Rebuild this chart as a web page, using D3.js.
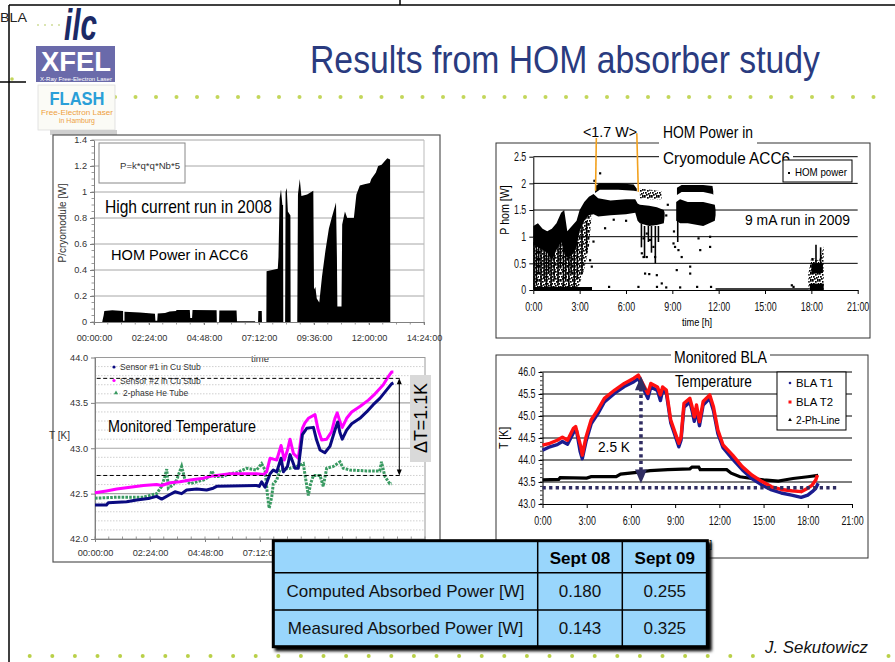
<!DOCTYPE html>
<html>
<head>
<meta charset="utf-8">
<script src="https://cdn.jsdelivr.net/npm/d3@7"></script>
<style>
body { margin: 0; background: #fff; }
svg { display: block; font-family: "Liberation Sans", Arial, sans-serif; }
</style>
</head>
<body>
<div id="chart"></div>
<script>
// ---------- data ----------
var slideTitle = "Results from HOM absorber study";

// top left: HOM power 2008, [hour, W]
var tlTicksY = [0, 0.2, 0.4, 0.6, 0.8, 1, 1.2, 1.4];
var tlTicksX = [0, 2.4, 4.8, 7.2, 9.6, 12, 14.4];
var homPower2008 = [[0.36,0],[0.38,0.02],[0.42,0.05],[0.45,0.085],[0.8,0.09],[1.27,0.085],[1.27,0.01],[1.33,0.01],[1.33,0.078],
  [2.0,0.073],[2.4,0.068],[2.66,0.063],[2.68,0.01],[2.76,0.01],[2.78,0.065],[3.1,0.07],[3.3,0.08],[3.58,0.085],[3.6,0.092],
  [4.18,0.092],[4.2,0.03],[4.28,0.03],[4.3,0.092],[5.35,0.09],[5.36,0],[5.46,0],[5.47,0.088],[6.22,0.088],[6.24,0.005],
  [7.02,0.005],[7.04,0],[7.16,0],[7.17,0.085],[7.32,0.085],[7.33,0],[7.52,0],[7.53,0.39],[8.02,0.41],[8.05,0.5],[8.1,0.95],
  [8.16,1.02],[8.22,0.9],[8.25,0.9],[8.26,0],[8.34,0],[8.36,1.0],[8.41,1.03],[8.46,0.85],[8.57,0.82],[8.58,0],[8.87,0],
  [8.9,0.98],[8.98,1.1],[9.05,0.97],[9.3,0.98],[9.57,1.01],[9.6,0.25],[9.66,0.27],[9.72,0.18],[9.83,0.15],[9.95,0.35],
  [10.1,0.55],[10.25,0.72],[10.37,0.8],[10.5,0.88],[10.56,0.92],[10.6,0.5],[10.62,0.12],[10.8,0.12],[10.83,0.75],[10.95,0.85],
  [11.05,0.8],[11.34,0.8],[11.45,0.98],[11.6,1.05],[11.8,1.06],[12.04,1.07],[12.1,1.1],[12.3,1.15],[12.4,1.2],[12.55,1.21],
  [12.7,1.24],[12.8,1.26],[12.92,1.25],[12.93,0]];

// bottom left: monitored temperature 2008, [hour, K]
var blTicksY = [42, 42.5, 43, 43.5, 44];
var sensor1 = [[0,42.375],[0.5,42.375],[0.58,42.40],[1.38,42.41],[1.82,42.43],[2.4,42.45],[2.69,42.47],[2.91,42.44],[3.27,42.49],
  [3.49,42.52],[3.78,42.50],[4.0,42.54],[4.44,42.55],[4.87,42.54],[5.16,42.56],[5.31,42.58],[5.89,42.585],[7.05,42.59],
  [7.17,42.58],[7.27,42.63],[7.42,42.57],[7.64,42.72],[7.78,42.76],[7.93,42.74],[8.12,42.89],[8.22,42.74],[8.4,42.80],
  [8.51,42.93],[8.73,42.78],[8.87,42.78],[9.05,43.15],[9.24,43.22],[9.53,43.23],[9.67,43.09],[9.82,42.98],[10.03,42.95],
  [10.25,43.02],[10.47,43.20],[10.59,43.29],[10.69,43.17],[10.79,43.10],[10.98,43.20],[11.2,43.27],[11.56,43.33],
  [11.85,43.40],[12.14,43.48],[12.43,43.55],[12.72,43.64],[12.94,43.71],[13.02,43.72]];
var sensor2 = [[0,42.51],[0.5,42.53],[0.95,42.55],[1.53,42.57],[2.11,42.59],[2.69,42.60],[2.91,42.59],[3.27,42.62],[3.71,42.63],
  [4.15,42.65],[4.73,42.67],[5.02,42.69],[5.31,42.70],[5.89,42.72],[6.47,42.72],[7.05,42.72],[7.35,42.71],[7.49,42.74],
  [7.64,42.89],[7.78,42.88],[7.93,42.87],[8.12,43.03],[8.26,42.87],[8.4,42.98],[8.51,43.10],[8.66,42.94],[8.87,42.89],
  [9.05,43.22],[9.16,43.28],[9.31,43.33],[9.6,43.37],[9.74,43.20],[9.89,43.09],[10.11,43.10],[10.32,43.18],[10.47,43.33],
  [10.57,43.39],[10.69,43.29],[10.79,43.23],[10.98,43.33],[11.2,43.40],[11.56,43.46],[11.93,43.53],[12.22,43.60],
  [12.58,43.70],[12.8,43.79],[12.94,43.84],[13.02,43.84]];
var heTube = [[0,42.45],[0.95,42.46],[2.11,42.46],[2.4,42.48],[2.69,42.50],[2.91,42.58],[3.05,42.69],[3.13,42.77],[3.2,42.56],
  [3.42,42.60],[3.56,42.65],[3.78,42.80],[3.93,42.65],[4.15,42.61],[4.44,42.63],[4.73,42.65],[5.02,42.69],[5.09,42.75],
  [5.24,42.69],[5.6,42.69],[5.89,42.72],[6.18,42.73],[6.62,42.78],[7.05,42.76],[7.27,42.83],[7.42,42.76],[7.52,42.50],
  [7.6,42.34],[7.71,42.46],[7.78,42.61],[7.93,42.65],[8.07,42.76],[8.51,42.78],[8.8,42.80],[9.09,42.83],[9.2,42.65],
  [9.31,42.48],[9.41,42.61],[9.53,42.70],[9.82,42.70],[9.96,42.58],[10.11,42.78],[10.4,42.80],[10.69,42.85],[10.83,42.78],
  [11.13,42.76],[11.85,42.75],[12.43,42.75],[12.5,42.85],[12.65,42.69],[12.86,42.61],[12.94,42.61]];
var deltaLevels = [42.70, 43.77];

// top right: HOM power 2009 scatter, bands [hour, low W, high W]
var trTicksY = [0, 0.5, 1, 1.5, 2, 2.5];
var trTicksX = [0, 3, 6, 9, 12, 15, 18, 21];
var homSparse = [
  [[0,0,0.85],[0.6,0,0.75],[1.2,0,0.55],[1.8,0,0.9],[2.2,0,0.6],[2.8,0,0.8],[3.0,0.1,1.1],[3.3,0.4,1.3],[3.6,0.8,1.4],[3.75,1.3,1.4]],
  [[6.9,1.72,1.9],[7.6,1.7,1.88],[8.3,1.7,1.85]],
  [[17.8,0,0.3],[18.0,0,0.62],[18.5,0,0.55],[18.8,0,0.82]]];
var homDense = [
  [[0.0,0.85,1.2],[0.3,0.8,1.25],[0.6,0.75,1.15],[0.9,0.7,1.1],[1.2,0.55,1.15],[1.5,0.75,1.25],[1.8,0.9,1.45],[2.0,0.7,1.5],
   [2.2,0.6,1.1],[2.5,0.65,1.2],[2.8,0.8,1.3],[3.0,1.1,1.5],[3.3,1.3,1.65],[3.6,1.4,1.75],[3.9,1.42,1.8],[4.2,1.38,1.72],
   [5.0,1.4,1.68],[6.0,1.42,1.7],[6.6,1.45,1.7],[6.75,1.3,1.62],[6.9,1.25,1.6],[7.5,1.2,1.58],[8.0,1.22,1.55],[8.45,1.25,1.5],[8.5,1.38,1.45]],
  [[4.0,1.82,1.95],[4.3,1.88,2.0],[5.5,1.88,2.0],[6.5,1.86,1.98],[6.7,1.85,1.9]],
  [[9.25,1.3,1.65],[9.5,1.25,1.7],[10.0,1.25,1.65],[11.0,1.2,1.65],[11.75,1.3,1.6],[11.8,1.4,1.5]],
  [[9.3,1.78,1.92],[9.6,1.84,1.97],[11.0,1.84,1.97],[11.6,1.8,1.95],[11.65,1.78,1.85]],
  [[17.9,0,0.12],[18.8,0,0.12]],
  [[18.0,0.3,0.5],[18.75,0.32,0.5]]];
var homStreaks = [[0.05,0.05,0.9],[0.2,0.1,1.0],[0.35,0.3,0.9],[0.5,0.05,0.8],[0.7,0.2,0.8],[0.85,0,0.75],[1.0,0.3,0.7],
  [1.15,0.05,0.6],[1.35,0.2,0.8],[1.6,0.1,0.9],[1.75,0.4,1.0],[1.95,0,0.8],[2.1,0.2,0.7],[2.3,0.05,0.65],[2.45,0.3,0.7],
  [2.65,0,0.8],[2.85,0.2,0.9],[3.15,0.3,1.2],[3.45,0.7,1.3],[7.0,0.8,1.25],[7.2,0.6,1.2],[7.45,0.9,1.2],[7.65,0.7,1.2],
  [7.9,0.5,1.2],[8.1,0.9,1.2],[9.35,0.9,1.3],[18.3,0.5,0.85],[18.6,0.45,0.8]];
var homDots = [[3.67,0.56],[3.78,0.44],[3.89,0.91],[4.32,2.19],[4.64,1.16],[7.02,0.69],[7.13,0.62],[7.23,0.31],[7.34,0.62],
  [7.77,0.81],[7.88,0.62],[7.99,0.28],[8.31,0.125],[7.13,0.97],[7.34,1.06],[7.55,0.94],[9.07,0.875],[9.17,0.81],[9.39,0.75],
  [9.28,0.375],[9.6,0.62],[10.15,0.44],[10.15,0.31],[10.69,0.97],[10.8,0.75],[11.44,1.0],[11.44,0.81],[16.73,0.09],
  [16.84,0.06],[4.9,0.06],[6.8,0.06],[8.0,0.06],[8.6,0.05],[9.5,0.05],[10.6,0.06],[11.5,0.06],[7.5,0.3],[5.2,1.32],
  [6.0,1.3],[8.6,1.4],[8.7,1.6],[9.1,1.1],[3.95,2.05]];
var homZero = [[[0,0.03],[3.8,0.03]], [[11.8,0.02],[17.8,0.02]]];
var orangeMarks = [[4.08,2.85,4.03,1.86],[6.7,2.94,6.8,1.84]];

// bottom right: BLA temperature 2009, [hour, K]
var brTicksY = [43, 43.5, 44, 44.5, 45, 45.5, 46];
var brTicksX = [0, 3, 6, 9, 12, 15, 18, 21];
var blaT1 = [[0,44.22],[0.5,44.3],[1.0,44.35],[1.35,44.42],[1.7,44.36],[2.1,44.62],[2.3,44.68],[2.55,44.2],[2.7,44.03],
  [2.95,44.42],[3.3,44.82],[3.75,45.05],[4.2,45.32],[4.9,45.52],[5.55,45.67],[6.2,45.78],[6.5,45.85],[6.8,45.65],[7.15,45.4],
  [7.35,45.66],[7.8,45.58],[8.0,45.35],[8.15,45.58],[8.4,45.52],[8.7,44.85],[9.05,44.5],[9.25,44.3],[9.4,44.45],[9.6,45.2],
  [10.0,45.32],[10.15,45.12],[10.3,44.88],[10.45,45.15],[10.65,44.78],[10.9,45.25],[11.35,45.4],[11.6,45.12],[11.9,44.6],
  [12.25,44.28],[12.9,44.02],[13.55,43.78],[14.2,43.58],[14.9,43.43],[15.55,43.32],[16.2,43.25],[16.9,43.2],[17.55,43.15],
  [18.0,43.2],[18.3,43.28],[18.55,43.36],[18.7,43.47]];
var blaT2 = [[0,44.34],[0.5,44.38],[1.0,44.45],[1.35,44.52],[1.7,44.45],[2.1,44.72],[2.25,44.76],[2.6,44.3],[2.7,44.11],
  [2.95,44.52],[3.3,44.91],[3.75,45.14],[4.2,45.4],[4.9,45.59],[5.55,45.74],[6.2,45.86],[6.5,45.93],[6.8,45.74],[7.15,45.51],
  [7.35,45.74],[7.8,45.66],[8.0,45.48],[8.15,45.66],[8.4,45.59],[8.7,44.91],[9.05,44.57],[9.25,44.38],[9.4,44.52],[9.6,45.29],
  [10.0,45.4],[10.15,45.21],[10.3,44.98],[10.45,45.25],[10.65,44.87],[10.9,45.33],[11.35,45.48],[11.6,45.21],[11.9,44.68],
  [12.25,44.34],[12.9,44.11],[13.55,43.85],[14.2,43.66],[14.9,43.51],[15.55,43.39],[16.2,43.33],[16.9,43.3],[17.55,43.28],
  [18.0,43.36],[18.3,43.43],[18.55,43.55],[18.65,43.66]];
var twoPhLine = [[0,43.55],[1.1,43.56],[1.2,43.6],[3.0,43.59],[3.3,43.62],[5.0,43.62],[5.3,43.68],[6.4,43.72],[7.3,43.76],
  [8.5,43.78],[10.0,43.8],[10.15,43.84],[10.6,43.84],[10.7,43.78],[12.5,43.78],[12.8,43.7],[13.4,43.62],[14.2,43.58],
  [15,43.55],[16,43.52],[16.5,43.55],[17,43.58],[18,43.62],[18.7,43.65]];
var blaArrow = [6.68, 45.86, 43.51];   // hour, top K, bottom K
var blaBase = [0, 20.05, 43.37];       // from hour, to hour, K

// table
var tableHead = ["", "Sept 08", "Sept 09"];
var tableRows = [["Computed Absorbed Power [W]", "0.180", "0.255"],
                 ["Measured Absorbed Power [W]", "0.143", "0.325"]];

// ---------- helpers ----------
var W = 895, H = 662;
var svg = d3.select("#chart").append("svg").attr("width", W).attr("height", H);
var defs = svg.append("defs");

var filter = defs.append("filter").attr("id", "tshadow")
    .attr("x", "-5%").attr("y", "-10%").attr("width", "115%").attr("height", "130%");
filter.append("feGaussianBlur").attr("in", "SourceAlpha").attr("stdDeviation", 1.5).attr("result", "blur");
filter.append("feOffset").attr("in", "blur").attr("dx", 3).attr("dy", 3).attr("result", "off");
var fm = filter.append("feMerge");
fm.append("feMergeNode").attr("in", "off");
fm.append("feMergeNode").attr("in", "SourceGraphic");

// speckle for the thin parts of the scatter cloud
var pat = defs.append("pattern").attr("id", "speck").attr("width", 7).attr("height", 7)
    .attr("patternUnits", "userSpaceOnUse");
[[0,0],[3,1],[5,0],[1,3],[4,4],[6,3],[2,5],[5,6],[0,6]].forEach(function(p) {
  pat.append("rect").attr("x", p[0]).attr("y", p[1]).attr("width", 1.7).attr("height", 1.7).attr("fill", "#000");
});

function label(g, x, y, s, o) {
  o = o || {};
  var t = g.append("text").attr("x", x).attr("y", y).text(s)
      .attr("font-size", o.size || 10).attr("fill", o.fill || "#000")
      .attr("text-anchor", o.anchor || "start");
  if (o.weight) t.attr("font-weight", o.weight);
  if (o.style) t.attr("font-style", o.style);
  if (o.len) t.attr("textLength", o.len).attr("lengthAdjust", "spacingAndGlyphs");
  if (o.rot) t.attr("transform", "rotate(" + o.rot + "," + x + "," + y + ")");
  return t;
}
function squeeze(sel, r) {
  sel.each(function() {
    var n = this.getComputedTextLength();
    d3.select(this).attr("textLength", n * r).attr("lengthAdjust", "spacingAndGlyphs");
  });
}
function hline(g, x1, x2, y, c, w) {
  return g.append("line").attr("x1", x1).attr("x2", x2).attr("y1", y).attr("y2", y)
      .attr("stroke", c).attr("stroke-width", w);
}
function pad2(n) { return (n < 10 ? "0" : "") + n; }
function hms(d) {
  var h = Math.floor(d + 1e-9), m = Math.round((d - h) * 60);
  return pad2(h) + ":" + pad2(m) + ":00";
}

// ---------- slide decoration ----------
var deco = svg.append("g");
deco.append("line").attr("x1", 9).attr("x2", 9).attr("y1", 5).attr("y2", H).attr("stroke", "#000").attr("stroke-width", 1.5);
hline(deco, 9, W, 5, "#000", 1.5);
deco.append("line").attr("x1", 400).attr("x2", 400).attr("y1", 0).attr("y2", 5).attr("stroke", "#000").attr("stroke-width", 1.5);
hline(deco, 0, 26, 82, "#000", 1.5);
label(deco, 0, 22, "BLA", {size: 13.5, fill: "#222", len: 27});
[38, 45, 52, 59].forEach(function(x) {
  deco.append("circle").attr("cx", x).attr("cy", 25).attr("r", 1).attr("fill", "#cfdc98");
});
deco.append("circle").attr("cx", 12).attr("cy", 79).attr("r", 1.8).attr("fill", "#c3d65a");
d3.range(38).forEach(function(i) {
  deco.append("circle").attr("cx", 115 + i * 20.5).attr("cy", 97).attr("r", 2).attr("fill", "#c3d65a");
});
d3.range(39).filter(function(i) { return i < 33 || i > 37; }).forEach(function(i) {
  deco.append("circle").attr("cx", 29.7 + i * 22.6).attr("cy", 656).attr("r", 2).attr("fill", "#b9d048");
});

// logos
label(deco, 64, 40, "ilc", {size: 44, weight: "bold", style: "italic", fill: "#1b2a66", len: 33});
deco.append("rect").attr("x", 36).attr("y", 46).attr("width", 79).attr("height", 36).attr("fill", "#6a6aaa");
label(deco, 76, 71, "XFEL", {size: 27, weight: "bold", fill: "#fff", anchor: "middle", len: 70});
label(deco, 76, 81, "X-Ray Free-Electron Laser", {size: 4.6, fill: "#fff", anchor: "middle", len: 72});
deco.append("rect").attr("x", 38).attr("y", 85).attr("width", 77).attr("height", 45)
    .attr("fill", "#fbfbf6").attr("stroke", "#ddd").attr("stroke-width", 0.8);
label(deco, 77, 105, "FLASH", {size: 18, weight: "bold", fill: "#2a9fd8", anchor: "middle", len: 55});
label(deco, 77, 115, "Free-Electron Laser", {size: 6.5, fill: "#eea040", anchor: "middle", len: 72});
label(deco, 77, 123, "in Hamburg", {size: 6.5, fill: "#eea040", anchor: "middle", len: 36});

label(deco, 310, 73, slideTitle, {size: 38, fill: "#2a3b7f", len: 510});
label(deco, 765, 653, "J. Sekutowicz", {size: 16.8, style: "italic", fill: "#111", len: 103});

// ---------- left panel frame ----------
var left = svg.append("g");
left.append("rect").attr("x", 50).attr("y", 130).attr("width", 67).attr("height", 5).attr("fill", "#cfcfcf");
left.append("rect").attr("x", 53).attr("y", 135).attr("width", 387).attr("height", 427)
    .attr("fill", "#fff").attr("stroke", "#555").attr("stroke-width", 1.2);

// ---------- top left: HOM power 2008 ----------
var xTL = d3.scaleLinear().domain([0, 14.4]).range([94, 424]);
var yTL = d3.scaleLinear().domain([0, 1.4]).range([322, 140]);
var gTL = left.append("g");
tlTicksY.slice(1).forEach(function(v) { hline(gTL, xTL(0), xTL(14.4), yTL(v), "#a6a6a6", 1); });
gTL.append("line").attr("x1", xTL(14.4)).attr("x2", xTL(14.4)).attr("y1", yTL(0)).attr("y2", yTL(1.4))
    .attr("stroke", "#bbb").attr("stroke-width", 1);
gTL.append("path").datum(homPower2008)
    .attr("d", d3.area().x(function(d) { return xTL(d[0]); }).y0(yTL(0)).y1(function(d) { return yTL(d[1]); }))
    .attr("fill", "#000");
var tlY = gTL.append("g").attr("transform", "translate(" + xTL(0) + ",0)")
    .call(d3.axisLeft(yTL).tickValues(tlTicksY).tickFormat(d3.format("~g")).tickSize(4).tickSizeOuter(0).tickPadding(3));
var tlX = gTL.append("g").attr("transform", "translate(0," + yTL(0) + ")")
    .call(d3.axisBottom(xTL).tickValues(tlTicksX).tickFormat(hms).tickSize(3).tickSizeOuter(0).tickPadding(9));
[tlY, tlX].forEach(function(a) {
  a.selectAll("path,line").attr("stroke", "#808080");
  a.selectAll("text").attr("font-size", 9.2).attr("fill", "#333").attr("font-family", "Liberation Sans, Arial, sans-serif");
});
d3.range(0, 1.4001, 0.05).forEach(function(v) {
  hline(gTL, xTL(0) - 2.5, xTL(0), yTL(v), "#808080", 0.8);
});
d3.range(0, 14.401, 0.6).forEach(function(t) {
  gTL.append("line").attr("x1", xTL(t)).attr("x2", xTL(t)).attr("y1", yTL(0)).attr("y2", yTL(0) + 2.5)
      .attr("stroke", "#808080").attr("stroke-width", 0.8);
});
label(gTL, 66, 223, "P/cryomodule [W]", {size: 10, fill: "#333", anchor: "middle", rot: -90});
gTL.append("rect").attr("x", 99).attr("y", 143).attr("width", 86).attr("height", 40)
    .attr("fill", "#fff").attr("stroke", "#888").attr("stroke-width", 1);
label(gTL, 120, 169, "P=k*q*q*Nb*5", {size: 9.5, fill: "#333", len: 60});
label(gTL, 105, 213, "High current run in 2008", {size: 18.5, len: 167});
label(gTL, 111, 260, "HOM Power in ACC6", {size: 15, len: 137});
label(gTL, 260, 362, "time", {size: 9.5, fill: "#333", anchor: "middle"});

// ---------- bottom left: monitored temperature 2008 ----------
var xBL = d3.scaleLinear().domain([0, 14.4]).range([95, 425]);
var yBL = d3.scaleLinear().domain([42, 44]).range([539, 357.5]);
var gBL = left.append("g");
d3.range(42.1, 43.95, 0.1).forEach(function(v) {
  if (Math.abs(v * 2 - Math.round(v * 2)) < 1e-6) return;
  hline(gBL, xBL(0), xBL(14.4), yBL(v), "#c4c4c4", 0.8).attr("stroke-dasharray", "1.5,1.5");
});
[42.5, 43, 43.5].forEach(function(v) { hline(gBL, xBL(0), xBL(14.4), yBL(v), "#a6a6a6", 1.2); });
gBL.append("rect").attr("x", xBL(0)).attr("y", yBL(44)).attr("width", xBL(14.4) - xBL(0)).attr("height", yBL(42) - yBL(44))
    .attr("fill", "none").attr("stroke", "#9a9a9a").attr("stroke-width", 1);
var blY = gBL.append("g").attr("transform", "translate(" + xBL(0) + ",0)")
    .call(d3.axisLeft(yBL).tickValues(blTicksY).tickFormat(d3.format(".1f")).tickSize(4).tickSizeOuter(0).tickPadding(3));
var blX = gBL.append("g").attr("transform", "translate(0," + yBL(42) + ")")
    .call(d3.axisBottom(xBL).tickValues(tlTicksX).tickFormat(hms).tickSize(3).tickSizeOuter(0).tickPadding(7));
[blY, blX].forEach(function(a) {
  a.selectAll("path,line").attr("stroke", "#808080");
  a.selectAll("text").attr("font-size", 9.2).attr("fill", "#333").attr("font-family", "Liberation Sans, Arial, sans-serif");
});
d3.range(0, 14.401, 0.6).forEach(function(t) {
  gBL.append("line").attr("x1", xBL(t)).attr("x2", xBL(t)).attr("y1", yBL(42)).attr("y2", yBL(42) - 2.5)
      .attr("stroke", "#808080").attr("stroke-width", 0.8);
});
var lineBL = d3.line().x(function(d) { return xBL(d[0]); }).y(function(d) { return yBL(d[1]); });
gBL.append("path").datum(heTube).attr("d", lineBL).attr("fill", "none")
    .attr("stroke", "#3a9a62").attr("stroke-width", 3).attr("stroke-dasharray", "2.6,1.2");
gBL.append("path").datum(sensor2).attr("d", lineBL).attr("fill", "none")
    .attr("stroke", "#ff00ff").attr("stroke-width", 3).attr("stroke-linejoin", "round");
gBL.append("path").datum(sensor1).attr("d", lineBL).attr("fill", "none")
    .attr("stroke", "#0a0a80").attr("stroke-width", 3).attr("stroke-linejoin", "round");

// legend
label(gBL, 120, 370, "Sensor #1 in Cu Stub", {size: 8.5, fill: "#333"});
label(gBL, 120, 383.5, "Sensor #2 in Cu Stub", {size: 8.5, fill: "#333"});
label(gBL, 123, 396, "2-phase He Tube", {size: 8.5, fill: "#333"});
gBL.append("circle").attr("cx", 114).attr("cy", 367).attr("r", 1.6).attr("fill", "#0a0a80");
gBL.append("circle").attr("cx", 114).attr("cy", 380.5).attr("r", 1.6).attr("fill", "#ff00ff");
gBL.append("path").attr("d", d3.symbol().type(d3.symbolTriangle).size(8)()).attr("transform", "translate(116,393)")
    .attr("fill", "#3a9a62");

label(gBL, 49, 439, "T  [K]", {size: 10, fill: "#333"});
label(gBL, 108, 432, "Monitored Temperature", {size: 16, len: 148});

deltaLevels.forEach(function(v) {
  hline(gBL, 96.7, 400, yBL(v), "#000", 1).attr("stroke-dasharray", "4,2.5");
});
var ax = 399.3;
gBL.append("line").attr("x1", ax).attr("x2", ax).attr("y1", yBL(deltaLevels[1]) + 4).attr("y2", yBL(deltaLevels[0]) - 4)
    .attr("stroke", "#000").attr("stroke-width", 1);
gBL.append("path").attr("d", "M" + (ax - 2.5) + "," + (yBL(deltaLevels[1]) + 6) + "L" + ax + "," + yBL(deltaLevels[1]) +
    "L" + (ax + 2.5) + "," + (yBL(deltaLevels[1]) + 6) + "Z").attr("fill", "#000");
gBL.append("path").attr("d", "M" + (ax - 2.5) + "," + (yBL(deltaLevels[0]) - 6) + "L" + ax + "," + yBL(deltaLevels[0]) +
    "L" + (ax + 2.5) + "," + (yBL(deltaLevels[0]) - 6) + "Z").attr("fill", "#000");
gBL.append("rect").attr("x", 410).attr("y", 375).attr("width", 21).attr("height", 87).attr("fill", "#d9d9d9");
label(gBL, 427, 418, "\u0394T=1.1K", {size: 18, anchor: "middle", rot: -90, len: 70});

// ---------- top right: HOM power 2009 ----------
var xTR = d3.scaleLinear().domain([0, 21]).range([533.3, 857.7]);
var yTR = d3.scaleLinear().domain([0, 2.5]).range([290, 156.7]);
var gTR = svg.append("g");
gTR.append("rect").attr("x", 496).attr("y", 143).attr("width", 374).attr("height", 195)
    .attr("fill", "#fff").attr("stroke", "#333").attr("stroke-width", 1);
trTicksY.slice(1).forEach(function(v) { hline(gTR, xTR(0), xTR(21), yTR(v), "#000", 1); });
var areaTR = d3.area().x(function(d) { return xTR(d[0]); })
    .y0(function(d) { return yTR(d[1]); }).y1(function(d) { return yTR(d[2]); });
homSparse.forEach(function(b) { gTR.append("path").attr("d", areaTR(b)).attr("fill", "url(#speck)"); });
homDense.forEach(function(b) { gTR.append("path").attr("d", areaTR(b)).attr("fill", "#000"); });
homStreaks.forEach(function(s) {
  gTR.append("line").attr("x1", xTR(s[0])).attr("x2", xTR(s[0])).attr("y1", yTR(s[1])).attr("y2", yTR(s[2]))
      .attr("stroke", "#000").attr("stroke-width", 1.6);
});
var lineTR = d3.line().x(function(d) { return xTR(d[0]); }).y(function(d) { return yTR(d[1]); });
gTR.append("path").datum(homZero[0]).attr("d", lineTR).attr("stroke", "#000").attr("stroke-width", 3);
gTR.append("path").datum(homZero[1]).attr("d", lineTR).attr("stroke", "#000").attr("stroke-width", 1.5);
homDots.forEach(function(p) {
  gTR.append("rect").attr("x", xTR(p[0]) - 1).attr("y", yTR(p[1]) - 1).attr("width", 2.2).attr("height", 2.2).attr("fill", "#000");
});
var trY = gTR.append("g").attr("transform", "translate(" + xTR(0) + ",0)")
    .call(d3.axisLeft(yTR).tickValues(trTicksY).tickFormat(d3.format("~g")).tickSize(4).tickSizeOuter(0).tickPadding(3));
var trX = gTR.append("g").attr("transform", "translate(0," + yTR(0) + ")")
    .call(d3.axisBottom(xTR).tickValues(trTicksX).tickFormat(function(d) { return d + ":00"; }).tickSize(4).tickSizeOuter(0).tickPadding(8));
[trY, trX].forEach(function(a) {
  a.selectAll("path,line").attr("stroke", "#000");
  a.selectAll("text").attr("font-size", 12).attr("fill", "#111").attr("font-family", "Liberation Sans, Arial, sans-serif");
  squeeze(a.selectAll("text"), 0.74);
});
squeeze(label(gTR, 697, 326, "time [h]", {size: 11.5, anchor: "middle"}), 0.8);
squeeze(label(gTR, 509, 210, "P hom [W]", {size: 12.5, anchor: "middle", rot: -90}), 0.85);

// titles breaking the frame
gTR.append("rect").attr("x", 659).attr("y", 126).attr("width", 98).attr("height", 21).attr("fill", "#fff");
gTR.append("rect").attr("x", 659).attr("y", 148).attr("width", 134).attr("height", 19).attr("fill", "#fff");
label(gTR, 663, 137.5, "HOM Power in", {size: 16, len: 90});
label(gTR, 663, 163.5, "Cryomodule ACC6", {size: 16, len: 127});
label(gTR, 583, 137, "<1.7 W>", {size: 15, len: 54});
orangeMarks.forEach(function(m) {
  gTR.append("line").attr("x1", xTR(m[0])).attr("y1", yTR(m[1])).attr("x2", xTR(m[2])).attr("y2", yTR(m[3]))
      .attr("stroke", "#f2a11e").attr("stroke-width", 1.6);
});
label(gTR, 745, 225, "9 mA run in 2009", {size: 15, len: 105});
gTR.append("rect").attr("x", 783).attr("y", 160).attr("width", 69).attr("height", 22)
    .attr("fill", "#fff").attr("stroke", "#000").attr("stroke-width", 1);
gTR.append("rect").attr("x", 788).attr("y", 172).attr("width", 2).attr("height", 2).attr("fill", "#000");
label(gTR, 795, 175.5, "HOM power", {size: 11, len: 52});

// ---------- bottom right: BLA temperature 2009 ----------
var xBR = d3.scaleLinear().domain([0, 21]).range([542.5, 852]);
var yBR = d3.scaleLinear().domain([43, 46]).range([504, 372]);
var gBR = svg.append("g");
gBR.append("rect").attr("x", 496).attr("y", 355).attr("width", 372).attr("height", 203)
    .attr("fill", "#fff").attr("stroke", "#333").attr("stroke-width", 1);
brTicksY.slice(1).forEach(function(v) { hline(gBR, xBR(0), xBR(21), yBR(v), "#000", 1); });
var brY = gBR.append("g").attr("transform", "translate(" + xBR(0) + ",0)")
    .call(d3.axisLeft(yBR).tickValues(brTicksY).tickFormat(d3.format(".1f")).tickSize(4).tickSizeOuter(0).tickPadding(3));
var brX = gBR.append("g").attr("transform", "translate(0," + yBR(43) + ")")
    .call(d3.axisBottom(xBR).tickValues(brTicksX).tickFormat(function(d) { return d + ":00"; }).tickSize(4).tickSizeOuter(0).tickPadding(8));
[brY, brX].forEach(function(a) {
  a.selectAll("path,line").attr("stroke", "#000");
  a.selectAll("text").attr("font-size", 12).attr("fill", "#111").attr("font-family", "Liberation Sans, Arial, sans-serif");
  squeeze(a.selectAll("text"), 0.74);
});
d3.range(43, 46.001, 0.1).forEach(function(v) { hline(gBR, xBR(0) - 2.5, xBR(0), yBR(v), "#000", 0.8); });
squeeze(label(gBR, 508, 438, "T  [K]", {size: 12.5, anchor: "middle", rot: -90}), 0.85);
squeeze(label(gBR, 697, 548, "time [h]", {size: 11.5, anchor: "middle"}), 0.8);

var lineBR = d3.line().x(function(d) { return xBR(d[0]); }).y(function(d) { return yBR(d[1]); });
gBR.append("path").datum(twoPhLine).attr("d", lineBR).attr("fill", "none")
    .attr("stroke", "#000").attr("stroke-width", 3.2);
gBR.append("path").datum(blaT1).attr("d", lineBR).attr("fill", "none")
    .attr("stroke", "#1c1c90").attr("stroke-width", 3.4).attr("stroke-linejoin", "round");
gBR.append("path").datum(blaT2).attr("d", lineBR).attr("fill", "none")
    .attr("stroke", "#ff1010").attr("stroke-width", 3.4).attr("stroke-linejoin", "round");

var navy = "#302d62";
hline(gBR, xBR(blaBase[0]), xBR(blaBase[1]), yBR(blaBase[2]), navy, 3.6).attr("stroke-dasharray", "3.3,3.3");
var axX = xBR(blaArrow[0]);
gBR.append("line").attr("x1", axX).attr("x2", axX).attr("y1", yBR(blaArrow[1]) + 10).attr("y2", yBR(blaArrow[2]) - 10)
    .attr("stroke", navy).attr("stroke-width", 3.6).attr("stroke-dasharray", "3.3,3.3");
gBR.append("path").attr("d", "M" + (axX - 6) + "," + (yBR(blaArrow[1]) + 12) + "L" + axX + "," + (yBR(blaArrow[1]) - 2) +
    "L" + (axX + 6) + "," + (yBR(blaArrow[1]) + 12) + "Z").attr("fill", navy);
gBR.append("path").attr("d", "M" + (axX - 6) + "," + (yBR(blaArrow[2]) - 12) + "L" + axX + "," + (yBR(blaArrow[2]) + 2) +
    "L" + (axX + 6) + "," + (yBR(blaArrow[2]) - 12) + "Z").attr("fill", navy);
label(gBR, 598, 452, "2.5 K", {size: 15, len: 32});

gBR.append("rect").attr("x", 671).attr("y", 346).attr("width", 99).attr("height", 19).attr("fill", "#fff");
label(gBR, 674, 363, "Monitored BLA", {size: 16, len: 93});
label(gBR, 675, 387, "Temperature", {size: 16, len: 77});
gBR.append("rect").attr("x", 777).attr("y", 372).attr("width", 69).attr("height", 58)
    .attr("fill", "#fff").attr("stroke", "#000").attr("stroke-width", 1);
gBR.append("circle").attr("cx", 790).attr("cy", 383).attr("r", 1.3).attr("fill", "#1c1c90");
gBR.append("rect").attr("x", 788.5).attr("y", 400.5).attr("width", 3).attr("height", 3).attr("fill", "#ff1010");
gBR.append("path").attr("d", d3.symbol().type(d3.symbolTriangle).size(6)()).attr("transform", "translate(790,420)").attr("fill", "#000");
label(gBR, 796, 387, "BLA   T1", {size: 11.5, len: 37});
label(gBR, 796, 406, "BLA   T2", {size: 11.5, len: 37});
label(gBR, 796, 424, "2-Ph-Line", {size: 11.5, len: 44});

// ---------- table ----------
var tx = 273.3, ty = 540.7, colX = [273.3, 537.7, 622.3, 707.3], rowY = [540.7, 572.7, 610, 646.7];
var gT = svg.append("g");
gT.append("rect").attr("x", tx).attr("y", ty).attr("width", colX[3] - tx).attr("height", rowY[3] - ty)
    .attr("fill", "#99d6fc").attr("stroke", "#000").attr("stroke-width", 3).style("filter", "url(#tshadow)");
colX.slice(1, 3).forEach(function(x) {
  gT.append("line").attr("x1", x).attr("x2", x).attr("y1", ty).attr("y2", rowY[3]).attr("stroke", "#000").attr("stroke-width", 1.5);
});
rowY.slice(1, 3).forEach(function(y) { hline(gT, tx, colX[3], y, "#000", 1.5); });
tableHead.forEach(function(s, i) {
  if (s) label(gT, (colX[i] + colX[i + 1]) / 2, 563.5, s, {size: 17, weight: "bold", anchor: "middle"});
});
tableRows.forEach(function(r, j) {
  var y = (rowY[j + 1] + rowY[j + 2]) / 2 + 6;
  r.forEach(function(s, i) {
    label(gT, (colX[i] + colX[i + 1]) / 2, y, s, {size: 17, anchor: "middle", fill: "#111"});
  });
});
</script>
</body>
</html>
